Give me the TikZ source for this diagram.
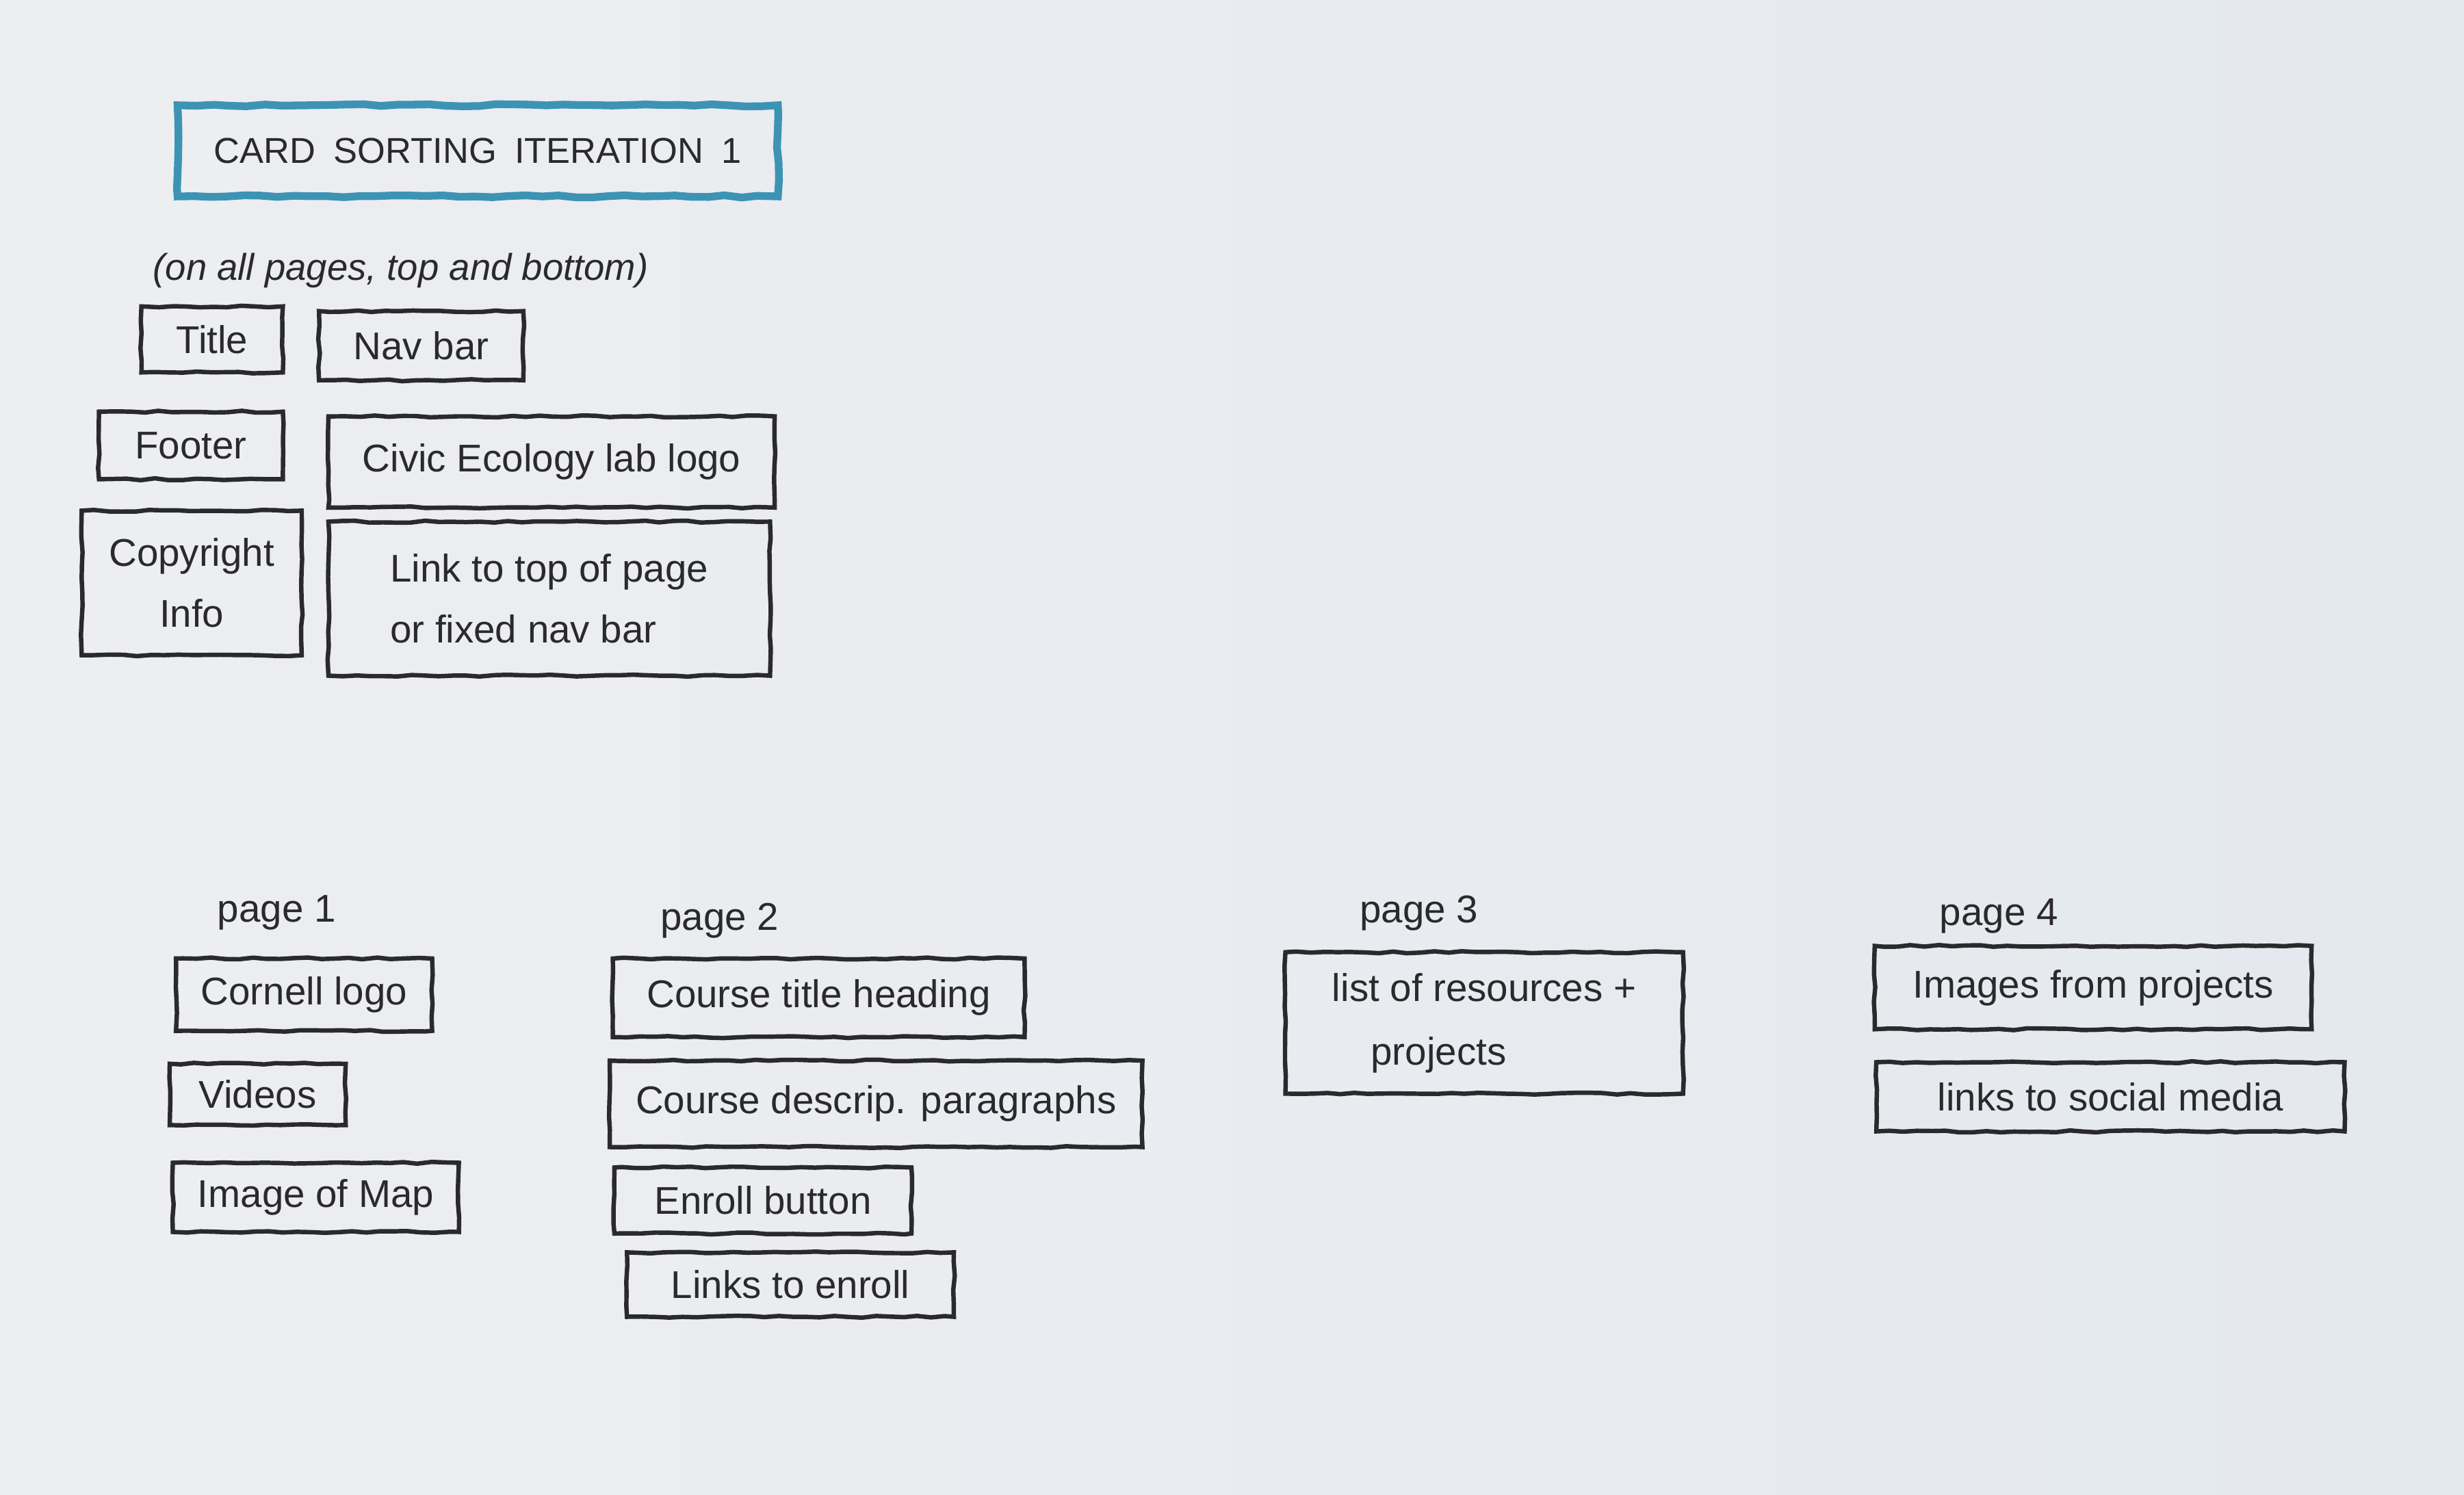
\documentclass[tikz,border=0pt]{standalone}
\usepackage{fontspec}
\setmainfont{Liberation Sans}
\usetikzlibrary{positioning, decorations.pathmorphing}

\definecolor{paper}{HTML}{EDEEF0}
\definecolor{paperblue}{HTML}{E4E9EF}
\definecolor{pencil}{HTML}{2A2A2C}
\definecolor{marker}{HTML}{3D93B4}

\begin{document}
\pgfmathsetseed{7}
\begin{tikzpicture}[
  x=0.2mm, y=-0.2mm,
  card/.style={
    rectangle, draw=pencil, line width=1.6pt, text=pencil,
    decorate, decoration={random steps, segment length=5pt, amplitude=0.35pt},
    inner sep=3pt, align=left, font=\fontsize{14}{22}\selectfont
  },
  headbox/.style={
    rectangle, draw=marker, line width=2.8pt, text=pencil,
    decorate, decoration={random steps, segment length=6pt, amplitude=0.4pt},
    font=\fontsize{13}{16}\selectfont
  },
  note/.style={text=pencil, font=\fontsize{14}{17}\selectfont},
]

%% ── Paper ────────────────────────────────────────────────────────────────────
\fill[left color=paper, right color=paperblue] (0,0) rectangle (1568,951);
\useasboundingbox (0,0) rectangle (1568,951);

%% ── Shared header / footer cards ─────────────────────────────────────────────
\node[headbox, minimum width=76.4mm, minimum height=11.6mm] (head) at (304,96)
  {CARD\enspace SORTING\enspace ITERATION\enspace 1};
\node[note, font=\fontsize{13.5}{16}\itshape] (allpages) at (255,172)
  {(on all pages, top and bottom)};

\node[card, minimum width=18mm, minimum height=8.4mm] (title) at (135,216) {Title};
\node[card, minimum width=26mm, minimum height=8.8mm] (navbar) at (268,220) {Nav bar};
\node[card, minimum width=23.4mm, minimum height=8.6mm] (footer) at (121.5,283.5) {Footer};
\node[card, minimum width=56.8mm, minimum height=11.6mm] (civic) at (351,294)
  {Civic Ecology lab logo};
\node[card, minimum width=28mm, minimum height=18.4mm, align=center] (copyright) at (122,371)
  {Copyright\\Info};
\node[card, minimum width=56.2mm, minimum height=19.6mm] (totop) at (349.5,381)
  {Link to top of page\\or fixed nav bar};

%% ── Page 1 ───────────────────────────────────────────────────────────────────
\node[note] (page1) at (176,581) {page 1};
\node[card, minimum width=32.6mm, minimum height=9.2mm] (cornell) at (193.5,633) {Cornell logo};
\node[card, minimum width=22.4mm, minimum height=7.8mm] (videos) at (164,696.5) {Videos};
\node[card, minimum width=36.4mm, minimum height=8.8mm] (map) at (201,762) {Image of Map};

%% ── Page 2 ───────────────────────────────────────────────────────────────────
\node[note] (page2) at (458,586) {page 2};
\node[card, minimum width=52.4mm, minimum height=10mm] (coursetitle) at (521,635)
  {Course title heading};
\node[card, minimum width=67.8mm, minimum height=11mm] (coursedesc) at (557.5,702.5)
  {Course descrip. paragraphs};
\node[card, minimum width=37.8mm, minimum height=8.4mm] (enroll) at (485.5,764) {Enroll button};
\node[card, minimum width=41.6mm, minimum height=8.2mm] (enrolllinks) at (503,817.5)
  {Links to enroll};

%% ── Page 3 ───────────────────────────────────────────────────────────────────
\node[note] (page3) at (903,581) {page 3};
\node[card, minimum width=50.6mm, minimum height=18mm] (resources) at (944.5,651)
  {list of resources +\\[1pt]\quad projects};

%% ── Page 4 ───────────────────────────────────────────────────────────────────
\node[note] (page4) at (1272,583) {page 4};
\node[card, minimum width=55.6mm, minimum height=10.6mm] (images) at (1332,628.5)
  {Images from projects};
\node[card, minimum width=59.6mm, minimum height=8.8mm] (social) at (1343,698)
  {links to social media};

\end{tikzpicture}
\end{document}
